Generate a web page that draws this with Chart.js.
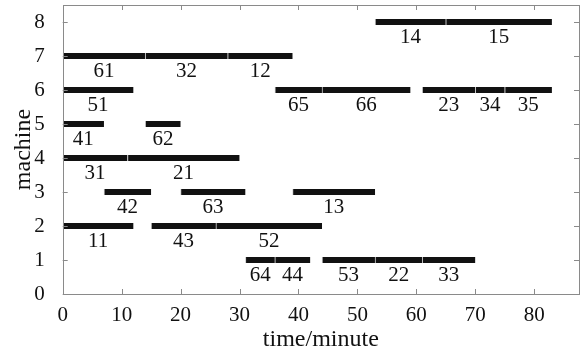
<!DOCTYPE html>
<html>
<head>
<meta charset="utf-8">
<script src="https://cdn.jsdelivr.net/npm/chart.js@4"></script>
<style>
  html, body { margin: 0; padding: 0; background: #fff; }
  #wrap { width: 582px; height: 354px; }
</style>
</head>
<body>
<div id="wrap"><canvas id="gantt"></canvas></div>
<script>
// operation label, machine, start and end time (minutes)
const jobs     = ['14', '15', '61', '32', '12', '51', '65', '66', '23', '34', '35',
                  '41', '62', '31', '21', '42', '63', '13', '11', '43', '52',
                  '64', '44', '53', '22', '33'];
const machines = [8, 8, 7, 7, 7, 6, 6, 6, 6, 6, 6,
                  5, 5, 4, 4, 3, 3, 3, 2, 2, 2,
                  1, 1, 1, 1, 1];
const starts   = [53, 65, 0, 14, 28, 0, 36, 44, 61, 70, 75,
                  0, 14, 0, 11, 7, 20, 39, 0, 15, 26,
                  31, 36, 44, 53, 61];
const ends     = [65, 83, 14, 28, 39, 12, 44, 59, 70, 75, 83,
                  7, 20, 11, 30, 15, 31, 53, 12, 26, 44,
                  36, 42, 53, 61, 70];
const xTicks = [0, 10, 20, 30, 40, 50, 60, 70, 80];
const yTicks = [0, 1, 2, 3, 4, 5, 6, 7, 8];

const serif = '"Liberation Serif", "DejaVu Serif", serif';
const frameColor = '#8a8a8a';

const points = jobs.map((j, i) => ({ x: [starts[i], ends[i]], y: machines[i] }));

// frame, inward ticks on all four sides, and operation labels under bars
const ganttDecor = {
  id: 'ganttDecor',
  afterDatasetsDraw(chart) {
    const { ctx, chartArea: a, scales: { x, y } } = chart;
    ctx.save();
    ctx.strokeStyle = frameColor;
    ctx.lineWidth = 1;
    ctx.beginPath();
    x.ticks.forEach(t => {
      const px = Math.round(x.getPixelForValue(t.value)) + 0.5;
      ctx.moveTo(px, a.bottom); ctx.lineTo(px, a.bottom - 5);
      ctx.moveTo(px, a.top); ctx.lineTo(px, a.top + 5);
    });
    y.ticks.forEach(t => {
      const py = Math.round(y.getPixelForValue(t.value)) + 0.5;
      ctx.moveTo(a.left, py); ctx.lineTo(a.left + 5, py);
      ctx.moveTo(a.right, py); ctx.lineTo(a.right - 5, py);
    });
    ctx.stroke();
    ctx.strokeRect(Math.round(a.left) + 0.5, Math.round(a.top) + 0.5,
                   Math.round(a.right - a.left), Math.round(a.bottom - a.top));

    ctx.fillStyle = '#111';
    ctx.font = '21px ' + serif;
    ctx.textAlign = 'center';
    ctx.textBaseline = 'middle';
    const meta = chart.getDatasetMeta(0);
    meta.data.forEach((bar, i) => {
      const cx = (x.getPixelForValue(starts[i]) + x.getPixelForValue(ends[i])) / 2;
      ctx.fillText(jobs[i], cx, bar.y + 15);
    });
    ctx.restore();
  }
};

new Chart(document.getElementById('gantt'), {
  type: 'bar',
  data: {
    datasets: [{
      data: points,
      backgroundColor: '#111',
      borderColor: '#d0d0d0',
      borderWidth: { left: 1, right: 0, top: 0, bottom: 0 },
      borderSkipped: false,
      barThickness: 6
    }]
  },
  options: {
    indexAxis: 'y',
    responsive: true,
    maintainAspectRatio: false,
    animation: false,
    layout: { padding: { left: 0, right: 3, top: 5, bottom: 0 } },
    plugins: { legend: { display: false }, tooltip: { enabled: false } },
    scales: {
      x: {
        type: 'linear',
        min: 0,
        max: 87.6,
        afterBuildTicks: s => { s.ticks = xTicks.map(v => ({ value: v })); },
        afterFit: s => { s.height = 60; s.paddingLeft = 0; s.paddingRight = 0; },
        grid: { display: false },
        border: { display: false },
        ticks: { color: '#111', font: { family: serif, size: 21 }, padding: 1, maxRotation: 0 },
        title: { display: true, text: 'time/minute', color: '#111',
                 font: { family: serif, size: 24 }, padding: { top: 0, bottom: 0 } }
      },
      y: {
        type: 'linear',
        offset: false,
        min: 0,
        max: 8.5,
        afterBuildTicks: s => { s.ticks = yTicks.map(v => ({ value: v })); },
        afterFit: s => { s.width = 62.7; s.paddingTop = 0; s.paddingBottom = 0; },
        grid: { display: false },
        border: { display: false },
        ticks: { color: '#111', font: { family: serif, size: 21 }, padding: 10 },
        title: { display: true, text: 'machine', color: '#111',
                 font: { family: serif, size: 24 }, padding: { top: 9, bottom: 0 } }
      }
    }
  },
  plugins: [ganttDecor]
});
</script>
</body>
</html>
